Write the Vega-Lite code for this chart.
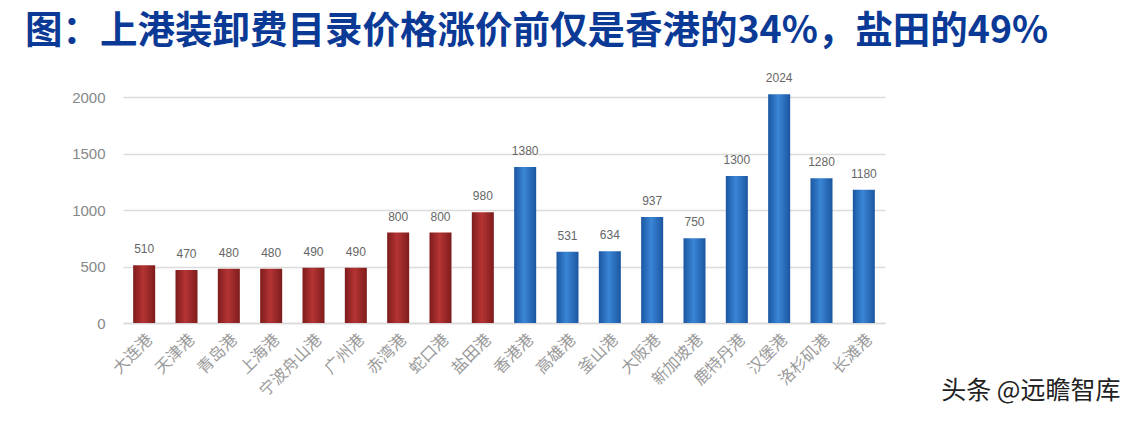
{
  "$schema": "https://vega.github.io/schema/vega-lite/v6.json",
  "width": 762,
  "height": 226,
  "autosize": {"type": "none"},
  "padding": {"left": 123, "top": 97, "right": 251, "bottom": 100},
  "background": "white",
  "title": {
    "text": "图：上港装卸费目录价格涨价前仅是香港的34%，盐田的49%",
    "anchor": "start",
    "frame": "group",
    "font": "Noto Sans CJK SC",
    "fontSize": 37.5,
    "fontWeight": "bold",
    "color": "#0B3A96",
    "dx": -98,
    "offset": 22
  },
  "config": {
    "view": {"stroke": null},
    "axis": {"labelFont": "Liberation Sans"}
  },
  "data": {
    "values": [
      {"port": "大连港", "value": 510, "label": "510", "group": "cn"},
      {"port": "天津港", "value": 470, "label": "470", "group": "cn"},
      {"port": "青岛港", "value": 480, "label": "480", "group": "cn"},
      {"port": "上海港", "value": 480, "label": "480", "group": "cn"},
      {"port": "宁波舟山港", "value": 490, "label": "490", "group": "cn"},
      {"port": "广州港", "value": 490, "label": "490", "group": "cn"},
      {"port": "赤湾港", "value": 800, "label": "800", "group": "cn"},
      {"port": "蛇口港", "value": 800, "label": "800", "group": "cn"},
      {"port": "盐田港", "value": 980, "label": "980", "group": "cn"},
      {"port": "香港港", "value": 1380, "label": "1380", "group": "intl"},
      {"port": "高雄港", "value": 631, "label": "531", "group": "intl"},
      {"port": "釜山港", "value": 634, "label": "634", "group": "intl"},
      {"port": "大阪港", "value": 937, "label": "937", "group": "intl"},
      {"port": "新加坡港", "value": 750, "label": "750", "group": "intl"},
      {"port": "鹿特丹港", "value": 1300, "label": "1300", "group": "intl"},
      {"port": "汉堡港", "value": 2024, "label": "2024", "group": "intl"},
      {"port": "洛杉矶港", "value": 1280, "label": "1280", "group": "intl"},
      {"port": "长滩港", "value": 1180, "label": "1180", "group": "intl"}
    ]
  },
  "encoding": {
    "x": {
      "field": "port",
      "type": "nominal",
      "sort": null,
      "scale": {"paddingInner": 0.48, "paddingOuter": 0.24},
      "axis": {
        "title": "头条 @远瞻智库",
        "titleFont": "Noto Sans CJK SC",
        "titleFontSize": 25,
        "titleFontWeight": "normal",
        "titleColor": "#222222",
        "titleAnchor": "end",
        "titleAlign": "right",
        "titleX": 997,
        "titleY": 67,
        "titleBaseline": "middle",
        "labelAngle": -45,
        "labelFont": "Noto Sans CJK SC",
        "labelFontSize": 16,
        "labelColor": "#9a9a9a",
        "labelPadding": 8,
        "ticks": false,
        "domainColor": "#d9d9d9",
        "domainWidth": 1.5
      }
    },
    "y": {
      "field": "value",
      "type": "quantitative",
      "scale": {"domain": [0, 2000], "nice": false},
      "axis": {
        "title": null,
        "format": "d",
        "values": [0, 500, 1000, 1500, 2000],
        "labelFontSize": 15,
        "labelColor": "#888888",
        "labelPadding": 18,
        "ticks": false,
        "domain": false,
        "gridColor": "#dcdcdc",
        "gridWidth": 1.5
      }
    }
  },
  "layer": [
    {
      "transform": [{"filter": "datum.group === 'cn'"}],
      "mark": {
        "type": "bar",
        "fill": {
          "gradient": "linear", "x1": 0, "x2": 1, "y1": 0, "y2": 0,
          "stops": [
            {"offset": 0, "color": "#7E1C1C"},
            {"offset": 0.45, "color": "#B53434"},
            {"offset": 1, "color": "#7E1C1C"}
          ]
        }
      }
    },
    {
      "transform": [{"filter": "datum.group === 'intl'"}],
      "mark": {
        "type": "bar",
        "fill": {
          "gradient": "linear", "x1": 0, "x2": 1, "y1": 0, "y2": 0,
          "stops": [
            {"offset": 0, "color": "#1B56A0"},
            {"offset": 0.45, "color": "#3A86D6"},
            {"offset": 1, "color": "#1B56A0"}
          ]
        }
      }
    },
    {
      "mark": {
        "type": "text",
        "baseline": "bottom",
        "dy": -9,
        "font": "Liberation Sans",
        "fontSize": 12,
        "color": "#666666"
      },
      "encoding": {"text": {"field": "label"}}
    }
  ]
}
